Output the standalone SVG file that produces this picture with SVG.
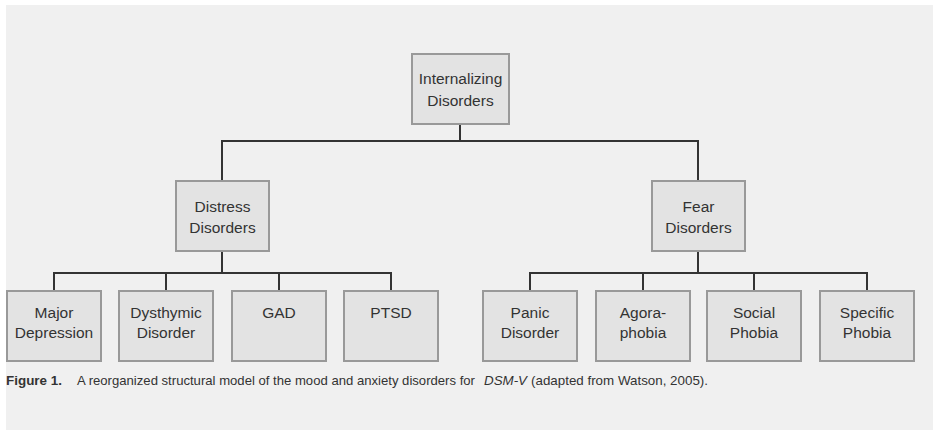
<svg xmlns="http://www.w3.org/2000/svg" width="933" height="430" viewBox="0 0 933 430">
<style>
.box{fill:#e3e3e3;stroke:#999;stroke-width:2}
.lbl{font-family:"Liberation Sans",Arial,sans-serif;font-size:15.5px;fill:#333;text-anchor:middle}
.con{fill:none;stroke:#333;stroke-width:2}
.cap{font-family:"Liberation Sans",Arial,sans-serif;font-size:13.5px;fill:#333}
</style>
<rect x="0" y="0" width="933" height="430" fill="#fff"/>
<rect x="6" y="5" width="927" height="425" fill="#f0f0f0"/>
<g id="connectors">
<path class="con" d="M460 124V141M222 181V141H698V181"/>
<path class="con" d="M222 251V273M54 291V273H391V291M166 273V291M279 273V291"/>
<path class="con" d="M698 251V273M530 291V273H867V291M643 273V291M754 273V291"/>
</g>
<g id="internalizing"><rect class="box" x="412" y="54" width="97" height="70"/><text class="lbl" x="460.5" y="83.5">Internalizing</text><text class="lbl" x="460.5" y="105.5">Disorders</text></g>
<g id="distress"><rect class="box" x="176" y="181" width="93" height="70"/><text class="lbl" x="222.5" y="211.5">Distress</text><text class="lbl" x="222.5" y="232.5">Disorders</text></g>
<g id="fear"><rect class="box" x="652" y="181" width="93" height="70"/><text class="lbl" x="698.5" y="211.5">Fear</text><text class="lbl" x="698.5" y="232.5">Disorders</text></g>
<g id="major"><rect class="box" x="7" y="291" width="94" height="70"/><text class="lbl" x="54" y="317.5">Major</text><text class="lbl" x="54" y="338">Depression</text></g>
<g id="dysthymic"><rect class="box" x="119" y="291" width="94" height="70"/><text class="lbl" x="166" y="317.5">Dysthymic</text><text class="lbl" x="166" y="338">Disorder</text></g>
<g id="gad"><rect class="box" x="232" y="291" width="94" height="70"/><text class="lbl" x="279" y="317.5">GAD</text></g>
<g id="ptsd"><rect class="box" x="344" y="291" width="94" height="70"/><text class="lbl" x="391" y="317.5">PTSD</text></g>
<g id="panic"><rect class="box" x="483" y="291" width="94" height="70"/><text class="lbl" x="530" y="317.5">Panic</text><text class="lbl" x="530" y="338">Disorder</text></g>
<g id="agoraphobia"><rect class="box" x="596" y="291" width="94" height="70"/><text class="lbl" x="643" y="317.5">Agora-</text><text class="lbl" x="643" y="338">phobia</text></g>
<g id="social"><rect class="box" x="707" y="291" width="94" height="70"/><text class="lbl" x="754" y="317.5">Social</text><text class="lbl" x="754" y="338">Phobia</text></g>
<g id="specific"><rect class="box" x="820" y="291" width="94" height="70"/><text class="lbl" x="867" y="317.5">Specific</text><text class="lbl" x="867" y="338">Phobia</text></g>
<g id="caption">
<text class="cap" y="384.5"><tspan x="6" font-weight="bold" textLength="56" lengthAdjust="spacingAndGlyphs">Figure 1.</tspan><tspan x="77" textLength="398" lengthAdjust="spacingAndGlyphs">A reorganized structural model of the mood and anxiety disorders for</tspan><tspan x="484" font-style="italic" textLength="43" lengthAdjust="spacingAndGlyphs">DSM-V</tspan><tspan x="531" textLength="177" lengthAdjust="spacingAndGlyphs">(adapted from Watson, 2005).</tspan></text>
</g>
</svg>
